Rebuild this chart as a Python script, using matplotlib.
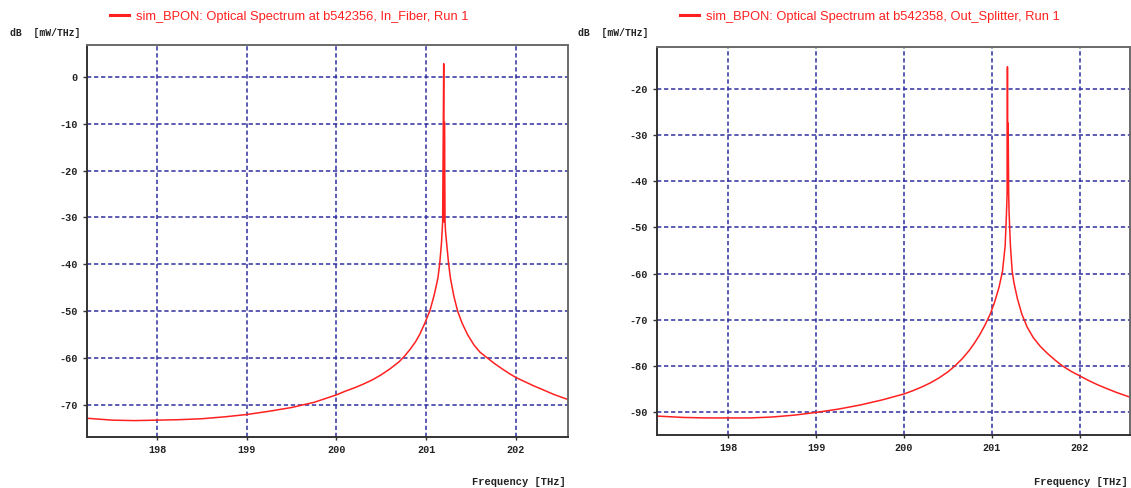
import matplotlib
matplotlib.use('Agg')
from matplotlib import pyplot as plt

plt.rcParams['axes.unicode_minus'] = False

# spectrum at In_Fiber (frequency in THz, power in dB)
freq_in = [197.22, 197.5, 197.75, 198.0, 198.25, 198.5, 198.75, 199.0, 199.25,
           199.5, 199.75, 200.0, 200.1, 200.2, 200.3, 200.4, 200.5, 200.6,
           200.7, 200.76, 200.82, 200.88, 200.93, 200.98, 201.04, 201.09,
           201.13, 201.15, 201.17, 201.183, 201.195, 201.199, 201.203, 201.21,
           201.215, 201.235, 201.25, 201.27, 201.31, 201.35, 201.4, 201.46,
           201.53, 201.6, 201.68, 201.76, 201.85, 201.93, 202.0, 202.1, 202.2,
           202.3, 202.42, 202.58]
db_in = [-72.9, -73.3, -73.4, -73.3, -73.2, -73.0, -72.6, -72.1, -71.4,
         -70.6, -69.5, -67.9, -67.1, -66.4, -65.6, -64.7, -63.6, -62.3,
         -60.8, -59.6, -58.2, -56.6, -54.9, -52.8, -50.0, -46.5,
         -43.0, -40.0, -35.5, -31.0, 2.8, -31.0, -9.6, -31.0,
         -33.0, -37.0, -40.0, -43.0, -47.0, -50.0, -52.6, -55.0,
         -57.2, -58.8, -60.0, -61.2, -62.4, -63.4, -64.2, -65.1, -66.0,
         -66.8, -67.8, -68.9]

# spectrum at Out_Splitter
freq_out = [197.19, 197.5, 197.75, 198.0, 198.25, 198.5, 198.75, 199.0, 199.25,
            199.5, 199.75, 200.0, 200.1, 200.2, 200.3, 200.4, 200.5, 200.58,
            200.66, 200.74, 200.8, 200.86, 200.92, 200.98, 201.03, 201.08,
            201.12, 201.15, 201.165, 201.172, 201.176, 201.18, 201.184, 201.19,
            201.195, 201.21, 201.23, 201.25, 201.29, 201.34, 201.4, 201.47,
            201.55, 201.63, 201.72, 201.8, 201.9, 202.0, 202.1, 202.2, 202.3,
            202.42, 202.57]
db_out = [-90.9, -91.2, -91.3, -91.3, -91.3, -91.1, -90.7, -90.1, -89.4,
          -88.5, -87.4, -86.1, -85.4, -84.6, -83.7, -82.6, -81.3, -80.0,
          -78.5, -76.7, -75.1, -73.3, -71.2, -68.8, -66.2, -63.0,
          -59.5, -54.0, -47.0, -42.8, -15.2, -42.8, -27.4, -42.8,
          -47.0, -54.0, -59.5, -62.0, -65.5, -68.8, -71.6, -73.9,
          -75.8, -77.3, -78.8, -80.0, -81.2, -82.2, -83.2, -84.1, -84.9,
          -85.8, -86.8]

x_ticks = [198, 199, 200, 201, 202]
y_ticks_in = [0, -10, -20, -30, -40, -50, -60, -70]
y_ticks_out = [-20, -30, -40, -50, -60, -70, -80, -90]

title_in = 'sim_BPON: Optical Spectrum at b542356, In_Fiber, Run 1'
title_out = 'sim_BPON: Optical Spectrum at b542358, Out_Splitter, Run 1'

W, H = 1131, 488
RED = '#ff2020'
GRID = '#2f2fa0'
MONO = 'Liberation Mono'


def style_axes(ax, yticks):
    ax.set_xticks(x_ticks)
    ax.set_yticks(yticks)
    ax.grid(True, color=GRID, linestyle=(0, (2.8, 1.8)), linewidth=1.1)
    ax.set_axisbelow(True)
    for side in ['left', 'bottom']:
        ax.spines[side].set_color('#333333')
        ax.spines[side].set_linewidth(1.4)
    for side in ['top', 'right']:
        ax.spines[side].set_color('#6a6a6a')
        ax.spines[side].set_linewidth(1.4)
    ax.tick_params(axis='y', length=3, width=1, direction='out', pad=4,
                   color='#333333')
    ax.tick_params(axis='x', length=2.5, width=1, direction='out', pad=3,
                   color='#333333')
    for lab in ax.get_xticklabels() + ax.get_yticklabels():
        lab.set_fontfamily(MONO)
        lab.set_fontweight('bold')
        lab.set_fontsize(7.3)
        lab.set_color('#222222')


def add_panel(rect, freq, db, xlim, ylim, yticks, title):
    ax = fig.add_axes(rect)
    ax.plot(freq, db, color=RED, linewidth=1.1, label=title)
    style_axes(ax, yticks)
    ax.set_xlim(*xlim)
    ax.set_ylim(*ylim)
    leg = ax.legend(loc='center left', frameon=False, borderpad=0,
                    borderaxespad=0, handlelength=1.45, handletextpad=0.55,
                    bbox_to_anchor=(rect[0] + 23 / W, 1 - 17 / H),
                    bbox_transform=fig.transFigure,
                    prop={'family': 'Liberation Sans', 'size': 9.3})
    for t in leg.get_texts():
        t.set_color(RED)
    for h in leg.legend_handles:
        h.set_linewidth(2.2)
    return ax


fig = plt.figure(figsize=(W / 100, H / 100), dpi=100)

add_panel([87 / W, 1 - 437 / H, (568 - 87) / W, (437 - 45) / H],
          freq_in, db_in, (197.22, 202.58), (-76.9, 6.8), y_ticks_in, title_in)
add_panel([657 / W, 1 - 435 / H, (1130 - 657) / W, (435 - 47) / H],
          freq_out, db_out, (197.19, 202.57), (-95.0, -10.9), y_ticks_out,
          title_out)

for x in [10, 578]:
    fig.text(x / W, 1 - 33 / H, 'dB  [mW/THz]', fontfamily=MONO,
             fontweight='bold', fontsize=7, va='center', ha='left',
             color='#222222')
for x in [566, 1128]:
    fig.text(x / W, 1 - 482 / H, 'Frequency [THz]', fontfamily=MONO,
             fontweight='bold', fontsize=7.5, va='center', ha='right',
             color='#222222')

fig.savefig('out.png', dpi=100, facecolor='white')
